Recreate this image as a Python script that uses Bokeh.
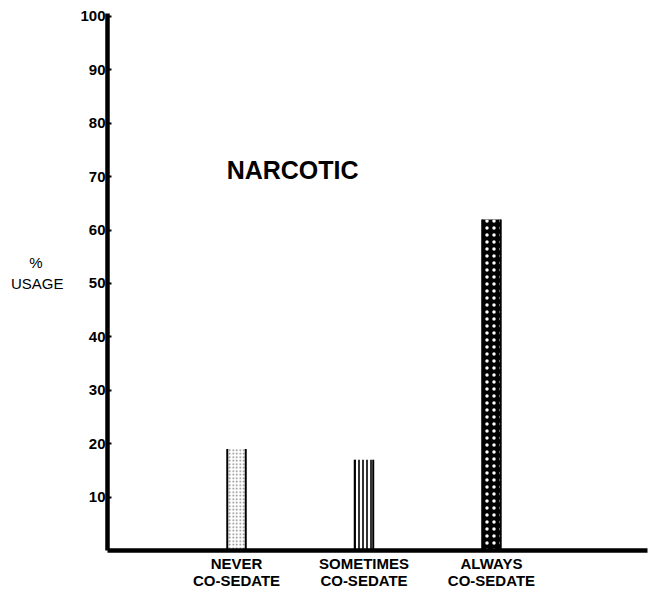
from bokeh.plotting import figure
from bokeh.models import FixedTicker, Label, Range1d, LinearAxis
from bokeh.embed import file_html
from bokeh.resources import INLINE

# ---- data ----
categories = ["NEVER\nCO-SEDATE", "SOMETIMES\nCO-SEDATE", "ALWAYS\nCO-SEDATE"]
positions = [1, 2, 3]
usage = [19, 17, 62]
y_ticks = [10, 20, 30, 40, 50, 60, 70, 80, 90, 100]
y_caption = "%\u00a0\u00a0\u00a0\u00a0\u00a0\nUSAGE"
y_caption_at = 52

FONT = "Liberation Sans"
BAR_W = 0.145

p = figure(width=648, height=592, output_backend="svg", toolbar_location=None,
           x_range=Range1d(-0.012, 4.224), y_range=Range1d(0, 100.56),
           min_border_left=107, min_border_right=1, min_border_top=13,
           min_border_bottom=42)
p.outline_line_color = None
p.xgrid.visible = False
p.ygrid.visible = False
p.background_fill_color = "white"

# bars
styles = [
    dict(fill_color="white", hatch_pattern="dot", hatch_color="#808080", hatch_scale=3.5, hatch_weight=0.9),
    dict(fill_color="white", hatch_pattern="vertical_line", hatch_color="black", hatch_scale=4, hatch_weight=1.6),
    dict(fill_color="black", hatch_pattern="dot", hatch_color="white", hatch_scale=7, hatch_weight=0.5),
]
for x, v, st in zip(positions, usage, styles):
    p.vbar(x=[x], top=[v], bottom=0, width=BAR_W, line_color=None, **st)

# side edges of bars (open top)
x0 = [x - BAR_W / 2 for x in positions] + [x + BAR_W / 2 for x in positions]
y1 = usage + usage
p.segment(x0=x0, y0=[0] * len(x0), x1=x0, y1=y1, line_color="black", line_width=2)

# axes
yax = p.yaxis[0]
yax.ticker = FixedTicker(ticks=y_ticks)
yax.axis_line_width = 4.5
yax.axis_line_color = "black"
yax.major_tick_in = 4
yax.major_tick_out = 0
yax.major_tick_line_width = 2
yax.minor_tick_line_color = None
yax.major_label_standoff = 2
yax.major_label_text_font = FONT
yax.major_label_text_font_style = "bold"
yax.major_label_text_font_size = "15px"
yax.major_label_text_color = "black"

# horizontal y caption as an extra, invisible left axis
cap = LinearAxis(ticker=FixedTicker(ticks=[y_caption_at]),
                 major_label_overrides={y_caption_at: y_caption})
cap.axis_line_color = None
cap.major_tick_line_color = None
cap.minor_tick_line_color = None
cap.major_label_standoff = 8
cap.major_label_text_font = FONT
cap.major_label_text_font_size = "15px"
cap.major_label_text_color = "black"
cap.major_label_text_line_height = 1.25
p.add_layout(cap, "left")

xax = p.xaxis[0]
xax.ticker = FixedTicker(ticks=positions)
xax.major_label_overrides = {pos: lab for pos, lab in zip(positions, categories)}
xax.axis_line_width = 4.5
xax.axis_line_color = "black"
xax.major_tick_line_color = None
xax.minor_tick_line_color = None
xax.major_tick_out = 0
xax.major_tick_in = 0
xax.major_label_standoff = 4
xax.major_label_text_font = FONT
xax.major_label_text_font_style = "bold"
xax.major_label_text_font_size = "15px"
xax.major_label_text_color = "black"
xax.major_label_text_line_height = 1.0

# title inside plot
p.add_layout(Label(x=1.44, y=71.2, text="NARCOTIC", text_align="center",
                   text_baseline="middle", text_font=FONT, text_font_style="bold",
                   text_font_size="25px", text_color="black"))

open("out.html", "w").write(file_html(p, INLINE))
